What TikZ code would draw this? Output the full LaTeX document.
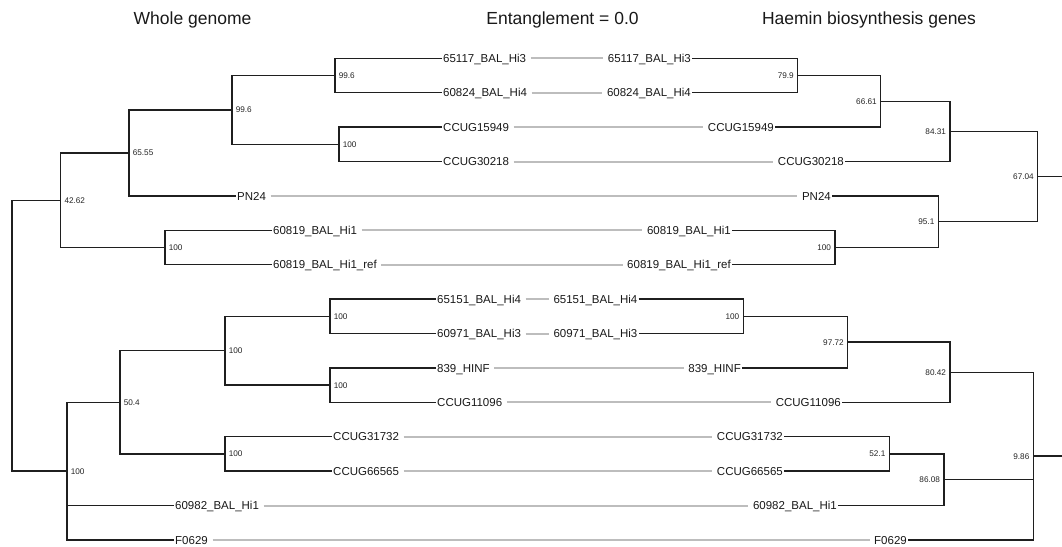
\documentclass[tikz,border=0pt]{standalone}
\usepackage{fontspec}
\setmainfont{Liberation Sans}
\newcommand\leaffont{\fontsize{11.5}{13}\selectfont}
\newcommand\suppfont{\fontsize{8.2}{9}\selectfont}
\newcommand\ttlfont{\fontsize{17.5}{20}\selectfont}
\begin{document}
\begin{tikzpicture}[x=1pt,y=-1pt,
  branch/.style={draw=black!88, line width=1.35pt, line join=miter},
  link/.style={draw=black!26, line width=2pt, shorten <=3.5pt, shorten >=3.5pt},
  leafL/.style={anchor=west, inner xsep=1pt, inner ysep=0pt, font=\leaffont, text height=8.2pt, text depth=0pt, text=black!90},
  leafR/.style={anchor=east, inner xsep=1pt, inner ysep=0pt, font=\leaffont, text height=8.2pt, text depth=0pt, text=black!90},
  suppL/.style={anchor=west, xshift=3.6pt, inner sep=0pt, font=\suppfont, text height=5.9pt, text depth=0pt, text=black!85},
  suppR/.style={anchor=east, xshift=-3.8pt, inner sep=0pt, font=\suppfont, text height=5.9pt, text depth=0pt, text=black!85},
  ttl/.style={anchor=base, font=\ttlfont, text=black!90, inner sep=0pt}]
\useasboundingbox (0,0) rectangle (1062,546);
\fill[white] (0,0) rectangle (1062,546);

% titles
\node[ttl] (t1) at (192.5,24) {Whole genome};
\node[ttl] (t2) at (562.5,24) {Entanglement = 0.0};
\node[ttl] (t3) at (869,24) {Haemin biosynthesis genes};

% left leaves
\node[leafL] (l1)  at (442,58.3)  {65117\_BAL\_Hi3};
\node[leafL] (l2)  at (442,92.7)  {60824\_BAL\_Hi4};
\node[leafL] (l3)  at (442,127.1) {CCUG15949};
\node[leafL] (l4)  at (442,161.5) {CCUG30218};
\node[leafL] (l5)  at (236,195.9) {PN24};
\node[leafL] (l6)  at (272,230.3) {60819\_BAL\_Hi1};
\node[leafL] (l7)  at (272,264.7) {60819\_BAL\_Hi1\_ref};
\node[leafL] (l8)  at (436,299.1) {65151\_BAL\_Hi4};
\node[leafL] (l9)  at (436,333.5) {60971\_BAL\_Hi3};
\node[leafL] (l10) at (436,367.9) {839\_HINF};
\node[leafL] (l11) at (436,402.3) {CCUG11096};
\node[leafL] (l12) at (332,436.7) {CCUG31732};
\node[leafL] (l13) at (332,471.1) {CCUG66565};
\node[leafL] (l14) at (174,505.5) {60982\_BAL\_Hi1};
\node[leafL] (l15) at (174,539.9) {F0629};

% right leaves
\node[leafR] (r1)  at (692,58.3)  {65117\_BAL\_Hi3};
\node[leafR] (r2)  at (692,92.7)  {60824\_BAL\_Hi4};
\node[leafR] (r3)  at (775,127.1) {CCUG15949};
\node[leafR] (r4)  at (845,161.5) {CCUG30218};
\node[leafR] (r5)  at (832,195.9) {PN24};
\node[leafR] (r6)  at (732,230.3) {60819\_BAL\_Hi1};
\node[leafR] (r7)  at (732,264.7) {60819\_BAL\_Hi1\_ref};
\node[leafR] (r8)  at (638.5,299.1) {65151\_BAL\_Hi4};
\node[leafR] (r9)  at (638.5,333.5) {60971\_BAL\_Hi3};
\node[leafR] (r10) at (742,367.9) {839\_HINF};
\node[leafR] (r11) at (842,402.3) {CCUG11096};
\node[leafR] (r12) at (784,436.7) {CCUG31732};
\node[leafR] (r13) at (784,471.1) {CCUG66565};
\node[leafR] (r14) at (838,505.5) {60982\_BAL\_Hi1};
\node[leafR] (r15) at (908,539.9) {F0629};

% gray links
\foreach \i in {1,...,15} { \draw[link] (l\i.east) -- (r\i.west); }

% left internal nodes
\coordinate (LA) at (335,75.5);
\coordinate (LB) at (339,144.3);
\coordinate (LC) at (232,109.9);
\coordinate (LD) at (129,152.9);
\coordinate (LE) at (165,247.5);
\coordinate (LF) at (60.7,200.2);
\coordinate (LG) at (330,316.3);
\coordinate (LH) at (330,385.1);
\coordinate (LI) at (225,350.7);
\coordinate (LJ) at (225,453.9);
\coordinate (LK) at (120,402.3);
\coordinate (LM) at (67,471.1);
\coordinate (LR) at (12,335.6);

\draw[branch] (l1.west) -| (LA) |- (l2.west);
\draw[branch] (l3.west) -| (LB) |- (l4.west);
\draw[branch] (LA) -| (LC) |- (LB);
\draw[branch] (LC) -| (LD) |- (l5.west);
\draw[branch] (l6.west) -| (LE) |- (l7.west);
\draw[branch] (LD) -| (LF) |- (LE);
\draw[branch] (l8.west) -| (LG) |- (l9.west);
\draw[branch] (l10.west) -| (LH) |- (l11.west);
\draw[branch] (LG) -| (LI) |- (LH);
\draw[branch] (l12.west) -| (LJ) |- (l13.west);
\draw[branch] (LI) -| (LK) |- (LJ);
\draw[branch] (LK) -| (LM) |- (l15.west);
\draw[branch] (LM |- l14.west) -- (l14.west);
\draw[branch] (LF) -| (LR) |- (LM);

\node[suppL] (sLA) at (LA) {99.6};
\node[suppL] (sLB) at (LB) {100};
\node[suppL] (sLC) at (LC) {99.6};
\node[suppL] (sLD) at (LD) {65.55};
\node[suppL] (sLE) at (LE) {100};
\node[suppL] (sLF) at (LF) {42.62};
\node[suppL] (sLG) at (LG) {100};
\node[suppL] (sLH) at (LH) {100};
\node[suppL] (sLI) at (LI) {100};
\node[suppL] (sLJ) at (LJ) {100};
\node[suppL] (sLK) at (LK) {50.4};
\node[suppL] (sLM) at (LM) {100};

% right internal nodes
\coordinate (Ra) at (797.7,75.5);
\coordinate (Rb) at (880.7,101.3);
\coordinate (Rc) at (950,131.4);
\coordinate (Re) at (835,247.5);
\coordinate (Rd) at (938.3,221.7);
\coordinate (Rf) at (1037.7,176.55);
\coordinate (RfEnd) at (1062,176.55);
\coordinate (Rg) at (743.3,316.3);
\coordinate (Rh) at (847.7,342.1);
\coordinate (Ri) at (950,372.2);
\coordinate (Rj) at (889.3,453.9);
\coordinate (Rk) at (944,479.7);
\coordinate (Rl) at (1033.3,456.05);
\coordinate (RlEnd) at (1062,456.05);

\draw[branch] (r1.east) -| (Ra) |- (r2.east);
\draw[branch] (Ra) -| (Rb) |- (r3.east);
\draw[branch] (Rb) -| (Rc) |- (r4.east);
\draw[branch] (r6.east) -| (Re) |- (r7.east);
\draw[branch] (r5.east) -| (Rd) |- (Re);
\draw[branch] (Rc) -| (Rf) |- (Rd);
\draw[branch] (Rf) -- (RfEnd);
\draw[branch] (r8.east) -| (Rg) |- (r9.east);
\draw[branch] (Rg) -| (Rh) |- (r10.east);
\draw[branch] (Rh) -| (Ri) |- (r11.east);
\draw[branch] (r12.east) -| (Rj) |- (r13.east);
\draw[branch] (Rj) -| (Rk) |- (r14.east);
\draw[branch] (Ri) -| (Rl) |- (r15.east);
\draw[branch] (Rk) -- (Rk -| Rl);
\draw[branch] (Rl) -- (RlEnd);

\node[suppR] (sRa) at (Ra) {79.9};
\node[suppR] (sRb) at (Rb) {66.61};
\node[suppR] (sRc) at (Rc) {84.31};
\node[suppR] (sRe) at (Re) {100};
\node[suppR] (sRd) at (Rd) {95.1};
\node[suppR] (sRf) at (Rf) {67.04};
\node[suppR] (sRg) at (Rg) {100};
\node[suppR] (sRh) at (Rh) {97.72};
\node[suppR] (sRi) at (Ri) {80.42};
\node[suppR] (sRj) at (Rj) {52.1};
\node[suppR] (sRk) at (Rk) {86.08};
\node[suppR] (sRl) at (Rl) {9.86};
\end{tikzpicture}
\end{document}
